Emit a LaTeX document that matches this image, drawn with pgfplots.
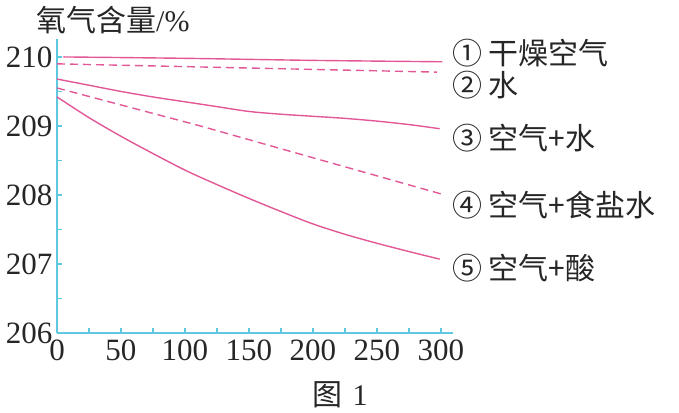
\documentclass[border=0pt]{standalone}
\usepackage{fontspec}
\setmainfont{Liberation Serif}
\newfontfamily\cjk{Noto Sans CJK SC}
\usepackage{pgfplots}
\pgfplotsset{compat=1.18}
\definecolor{pinkline}{RGB}{226,88,150}
\definecolor{axiscyan}{RGB}{95,200,225}
\begin{document}
\begin{tikzpicture}[x=1pt,y=1pt]
\path[use as bounding box] (0,0) rectangle (679,412);
\begin{axis}[
  at={(57pt,79pt)}, anchor=south west,
  scale only axis, width=396pt, height=294pt,
  xmin=0, xmax=309.4, ymin=206, ymax=210.26,
  axis x line=bottom, axis y line=left,
  axis line style={-, axiscyan, line width=1.4pt},
  every tick/.style={axiscyan, line width=1.2pt},
  major tick length=5pt, minor tick length=5pt,
  tick align=inside,
  xtick={0,50,...,300}, minor x tick num=1,
  ytick={206,207,...,210}, minor y tick num=1,
  /pgf/number format/assume math mode=true,
  /pgf/number format/1000 sep={},
  ticklabel style={font=\fontsize{31}{34}\selectfont, text=black!85},
  yticklabel style={xshift=-1pt},
  xticklabel style={yshift=-3pt},
  clip=false,
]
\addplot[pinkline, line width=1.4pt, smooth] coordinates {(5,210.0) (100,209.98) (200,209.95) (301,209.93)};
\addplot[pinkline, line width=1.4pt, dash pattern=on 8pt off 5pt] coordinates {(0,209.9) (297,209.78)};
\addplot[pinkline, line width=1.4pt, smooth] coordinates {(0,209.68) (25,209.59) (50,209.5) (75,209.42) (100,209.35) (125,209.28) (150,209.21) (175,209.17) (200,209.14) (225,209.11) (250,209.07) (275,209.02) (299,208.96)};
\addplot[pinkline, line width=1.4pt, dash pattern=on 8pt off 5pt] coordinates {(0,209.55) (112,209.0) (301,208.01)};
\addplot[pinkline, line width=1.4pt, smooth] coordinates {(0,209.42) (25,209.12) (50,208.85) (75,208.6) (100,208.36) (125,208.15) (150,207.95) (175,207.76) (200,207.58) (225,207.43) (250,207.3) (275,207.18) (299,207.07)};
\begin{scope}[font=\cjk\fontsize{30}{34}\selectfont, text=black!85]
\node[anchor=west] at (axis cs:306,210.06) {① 干燥空气};
\node[anchor=west] at (axis cs:306,209.59) {② 水};
\node[anchor=west] at (axis cs:306,208.83) {③ 空气+水};
\node[anchor=west] at (axis cs:306,207.86) {④ 空气+食盐水};
\node[anchor=west] at (axis cs:306,206.94) {⑤ 空气+酸};
\end{scope}
\end{axis}
\node[anchor=west, inner sep=0pt, text=black!85] at (36,392) {\cjk\fontsize{30}{34}\selectfont 氧气含量\fontspec{Liberation Serif}/\%};
\node[text=black!85] at (340,17) {\fontsize{30}{34}\selectfont\cjk 图\hspace{10pt}\fontspec{Liberation Serif}1};
\end{tikzpicture}
\end{document}
